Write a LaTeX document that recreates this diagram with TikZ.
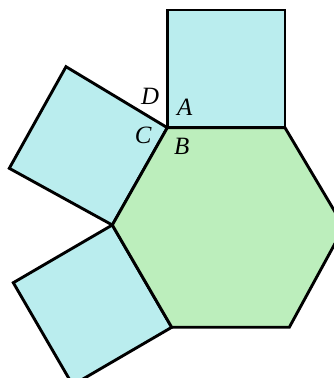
\documentclass[tikz,border=0pt]{standalone}
\usepackage{fontspec}
\setmainfont{Liberation Serif}
\definecolor{squarecyan}{HTML}{BAEDEE}
\definecolor{hexgreen}{HTML}{BCEEBC}
\tikzset{
  face/.style={draw=black, line width=2.9pt, line join=miter},
  squareface/.style={face, fill=squarecyan},
  hexface/.style={face, fill=hexgreen},
  vlabel/.style={font=\fontsize{25}{25}\selectfont\itshape, inner sep=0pt}
}

\begin{document}
\begin{tikzpicture}[x=1bp,y=-1bp]
\useasboundingbox (0,0) rectangle (334,378);
\clip (0,0) rectangle (334,378);
% hexagon corners
\coordinate (B) at (167.3,127.7);
\coordinate (H2) at (285,127.7);
\coordinate (H3) at (344,227);
\coordinate (H4) at (289.3,327.3);
\coordinate (H5) at (171.7,327.3);
\coordinate (H6) at (112.3,225);
% outer corners of the squares
\coordinate (T1) at (167.3,10);
\coordinate (T2) at (285,10);
\coordinate (U1) at (66,66.7);
\coordinate (U2) at (9.3,168.3);
\coordinate (L1) at (13.3,282.7);
\coordinate (L2) at (72.7,385);
\draw[squareface] (B) -- (T1) -- (T2) -- (H2) -- cycle;
\draw[squareface] (B) -- (U1) -- (U2) -- (H6) -- cycle;
\draw[squareface] (H6) -- (L1) -- (L2) -- (H5) -- cycle;
\draw[hexface] (B) -- (H2) -- (H3) -- (H4) -- (H5) -- (H6) -- cycle;
\node[vlabel] (labD) at (150,96.7) {D};
\node[vlabel] (labA) at (184.7,107.5) {A};
\node[vlabel] (labC) at (143.3,135) {C};
\node[vlabel] (labB) at (181.7,146.7) {B};
\end{tikzpicture}
\end{document}
